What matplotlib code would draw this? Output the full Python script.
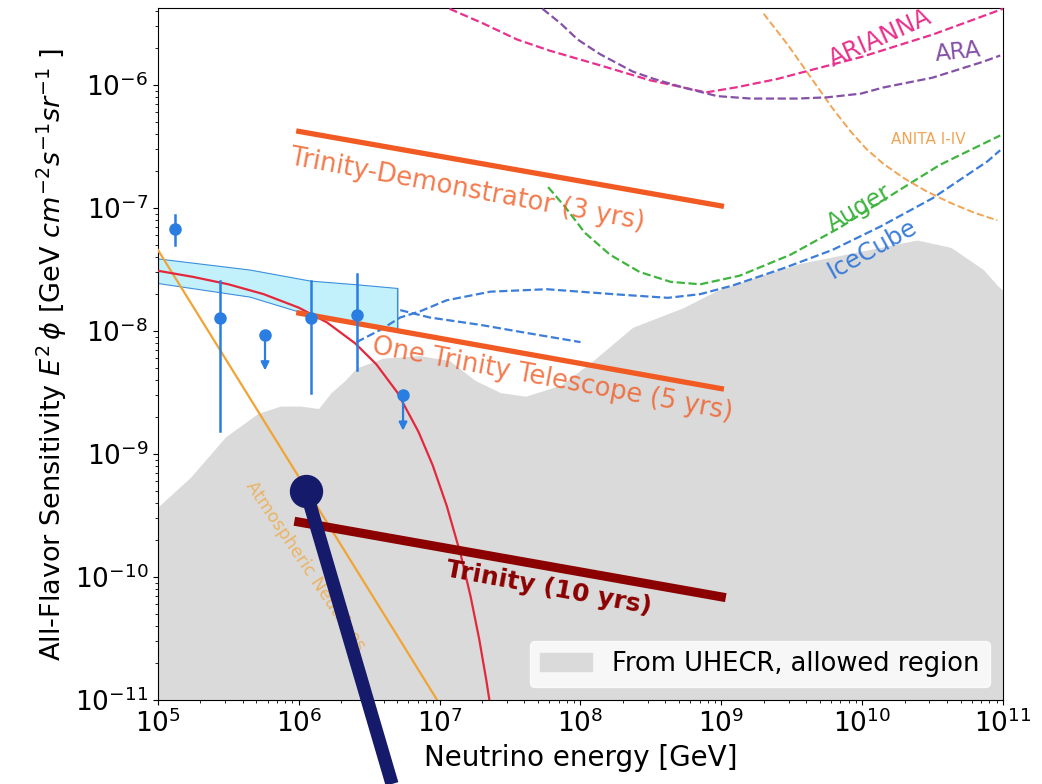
import numpy as np
import matplotlib
matplotlib.use("Agg")
import matplotlib.pyplot as plt
from matplotlib.lines import Line2D
from matplotlib.patches import Patch

# all values are log10(E / GeV), log10(E^2 phi)
uhecr_lx = [5.0, 5.23, 5.48, 5.71, 5.87, 6.01, 6.14, 6.23, 6.33, 6.41, 6.60, 6.86, 7.07,
            7.25, 7.43, 7.61, 7.86, 8.09, 8.37, 8.73, 8.97, 9.28, 9.56, 10.04, 10.39,
            10.63, 10.86, 10.96, 11.0]
uhecr_ly = [-9.43, -9.19, -8.86, -8.67, -8.61, -8.61, -8.63, -8.50, -8.40, -8.30, -8.22,
            -8.20, -8.24, -8.40, -8.50, -8.53, -8.44, -8.24, -7.97, -7.81, -7.67, -7.55,
            -7.45, -7.34, -7.26, -7.32, -7.50, -7.63, -7.67]

# Trinity sensitivities (E from 1e6 to 1e9 GeV)
trinity_x = [1e6, 1e9]
demo_y = [4.2e-7, 1.04e-7]
one_tel_y = [1.4e-8, 3.4e-9]
full_y = [2.8e-10, 6.9e-11]

atm_x = [1e5, 9.6e6]
atm_y = [4.56e-8, 1e-11]

cutoff_lx = [5.0, 5.25, 5.5, 5.75, 6.0, 6.2, 6.4, 6.55, 6.7, 6.85, 6.95, 7.05, 7.15,
             7.22, 7.28, 7.33, 7.36]
cutoff_ly = [-7.51, -7.56, -7.62, -7.70, -7.81, -7.93, -8.10, -8.27, -8.50, -8.82, -9.09,
             -9.42, -9.82, -10.16, -10.50, -10.83, -11.05]

band_lx = [5.0, 5.65, 6.08, 6.41, 6.70]
band_up = [-7.41, -7.50, -7.59, -7.62, -7.65]
band_lo = [-7.61, -7.72, -7.87, -7.94, -7.98]

# IceCube measured points
pts_lx = [5.12, 5.44, 5.76, 6.09, 6.41, 6.74]
pts_ly = [-7.17, -7.89, -8.03, -7.89, -7.87, -8.52]
pts_hi = [-7.06, -7.59, None, -7.59, -7.54, None]
pts_lo = [-7.30, -8.81, -8.32, -8.50, -8.32, -8.81]

icecube_lx = [6.41, 6.58, 6.72, 6.86, 7.05, 7.36, 7.76, 8.23, 8.62, 8.85, 9.08, 9.44,
              9.79, 10.13, 10.50, 10.89, 10.98]
icecube_ly = [-8.09, -7.99, -7.89, -7.84, -7.75, -7.68, -7.66, -7.70, -7.73, -7.70,
              -7.63, -7.49, -7.34, -7.15, -6.92, -6.62, -6.53]
icecube2_lx = [6.72, 6.93, 7.29, 7.64, 8.0]
icecube2_ly = [-7.83, -7.89, -7.95, -8.02, -8.09]

auger_lx = [7.77, 7.89, 8.03, 8.21, 8.42, 8.64, 8.85, 9.13, 9.49, 9.84, 10.20, 10.55, 10.98]
auger_ly = [-6.83, -6.99, -7.20, -7.38, -7.52, -7.60, -7.62, -7.55, -7.38, -7.16, -6.90,
            -6.65, -6.41]

anita_lx = [9.30, 9.47, 9.63, 9.79, 9.92, 10.03, 10.15, 10.30, 10.45, 10.63, 10.80, 10.96]
anita_ly = [-5.42, -5.67, -5.93, -6.19, -6.38, -6.52, -6.64, -6.76, -6.86, -6.96, -7.04,
            -7.10]

arianna_lx = [7.07, 7.31, 7.55, 7.78, 8.14, 8.49, 8.73, 8.89, 9.10, 9.40, 9.63, 10.0,
              10.5, 11.0]
arianna_ly = [-5.38, -5.50, -5.63, -5.72, -5.84, -5.96, -6.02, -6.06, -6.02, -5.95, -5.88,
              -5.77, -5.59, -5.38]

ara_lx = [7.73, 7.86, 7.98, 8.14, 8.37, 8.52, 8.73, 8.97, 9.21, 9.54, 9.75, 9.99, 10.15,
          10.50, 10.86, 10.98]
ara_ly = [-5.38, -5.50, -5.63, -5.75, -5.89, -5.95, -6.02, -6.09, -6.11, -6.11, -6.10,
          -6.07, -6.02, -5.94, -5.81, -5.76]


def p(a):
    return 10.0 ** np.array(a, dtype=float)


fig = plt.figure(figsize=(10.42, 7.84), dpi=100)
ax = fig.add_axes([0.1516, 0.1071, 0.811, 0.8827])
ax.set_xscale("log")
ax.set_yscale("log")

ax.fill_between(p(uhecr_lx), p(uhecr_ly), 1e-12, color="#dadada", lw=0, zorder=1)

ax.fill_between(p(band_lx), p(band_lo), p(band_up), color="#c2f1fb", edgecolor="#3d8fdc",
                lw=0.8, zorder=2)
ax.plot([p(band_lx)[-1]] * 2, [p(band_lo)[-1], p(band_up)[-1]], color="#3d8fdc", lw=0.8,
        zorder=2)

ax.plot(atm_x, atm_y, color="#f0a436", lw=1.6, zorder=3)
ax.plot(p(cutoff_lx), p(cutoff_ly), color="#e4283c", lw=1.6, zorder=4)

ax.plot(p(icecube_lx), p(icecube_ly), "--", color="#3b7dd8", lw=1.6, zorder=3)
ax.plot(p(icecube2_lx), p(icecube2_ly), "--", color="#3b7dd8", lw=1.6, zorder=3)
ax.plot(p(auger_lx), p(auger_ly), "--", color="#3fb43f", lw=1.6, zorder=3)
ax.plot(p(anita_lx), p(anita_ly), "--", color="#f2a455", lw=1.4, zorder=3)
ax.plot(p(arianna_lx), p(arianna_ly), "--", color="#e8308c", lw=1.6, zorder=3)
ax.plot(p(ara_lx), p(ara_ly), "--", color="#8450a8", lw=1.6, zorder=3)

ax.plot(trinity_x, demo_y, color="#f15a22", lw=3.8, zorder=5)
ax.plot(trinity_x, one_tel_y, color="#f15a22", lw=3.8, zorder=5)
ax.plot(trinity_x, full_y, color="#8b0000", lw=6.5, zorder=5)

# data points with error bars / upper limits
blue = "#2a7de1"
for lx, ly, hi, lo in zip(pts_lx, pts_ly, pts_hi, pts_lo):
    x = 10 ** lx
    if hi is None:
        ax.annotate("", xy=(x, 10 ** lo), xytext=(x, 10 ** ly),
                    arrowprops=dict(arrowstyle="-|>", color=blue, lw=1.6,
                                    mutation_scale=12, shrinkA=0, shrinkB=0), zorder=6)
    else:
        ax.plot([x, x], [10 ** lo, 10 ** hi], color=blue, lw=1.8, zorder=6)
    ax.plot(x, 10 ** ly, "o", color=blue, ms=8, zorder=7)

# labels
ax.text(1.57e7, 1.4e-7, "Trinity-Demonstrator (3 yrs)", color="#f15a22", fontsize=18.5,
        rotation=-10.5, ha="center", va="center", alpha=0.8, zorder=8)
ax.text(6.3e7, 4.0e-9, "One Trinity Telescope (5 yrs)", color="#f15a22", fontsize=18.5,
        rotation=-10.5, ha="center", va="center", alpha=0.8, zorder=8)
ax.text(6.0e7, 8.15e-11, "Trinity (10 yrs)", color="#8b0000", fontsize=18, fontweight="bold",
        rotation=-10.5, ha="center", va="center", zorder=8)
ax.text(1.12e6, 1.23e-10, "Atmospheric Neutrinos", color="#f0a436", fontsize=12.5,
        rotation=-56, ha="center", va="center", alpha=0.7, zorder=8)
ax.text(1.34e10, 2.4e-6, "ARIANNA", color="#e8308c", fontsize=17.5, rotation=24,
        ha="center", va="center", zorder=8)
ax.text(4.8e10, 1.85e-6, "ARA", color="#8450a8", fontsize=16.5, rotation=6,
        ha="center", va="center", zorder=8)
ax.text(2.94e10, 3.64e-7, "ANITA I-IV", color="#f2a455", fontsize=11,
        ha="center", va="center", zorder=8)
ax.text(9.6e9, 1.0e-7, "Auger", color="#3fb43f", fontsize=17, rotation=30,
        ha="center", va="center", zorder=8)
ax.text(1.18e10, 4.6e-8, "IceCube", color="#3b7dd8", fontsize=17.5, rotation=29,
        ha="center", va="center", zorder=8)

ax.set_xlim(1e5, 1e11)
ax.set_ylim(1e-11, 4.23e-6)
ax.set_xlabel("Neutrino energy [GeV]", fontsize=20)
ax.set_ylabel(r"All-Flavor Sensitivity $E^2\,\phi$ [GeV $cm^{-2}s^{-1}sr^{-1}$ ]", fontsize=19.5)
ax.tick_params(labelsize=19)
ax.set_yticks([1e-11, 1e-10, 1e-9, 1e-8, 1e-7, 1e-6])

ax.legend(handles=[Patch(color="#dadada", label="From UHECR, allowed region")],
          loc="lower right", fontsize=18.5, framealpha=0.8, edgecolor="white", fancybox=True)

# navy pointer overlay
x0, y0 = 306 / 1042, 1 - 491 / 784
x1, y1 = 392 / 1042, 0.0
fig.add_artist(Line2D([x0, x1], [y0, y1], transform=fig.transFigure, color="#151a6a",
                      lw=9.5, solid_capstyle="butt", zorder=20))
fig.add_artist(Line2D([x0], [y0], transform=fig.transFigure, marker="o", ms=23,
                      color="#151a6a", zorder=21))

fig.savefig("out.png", dpi=100)
